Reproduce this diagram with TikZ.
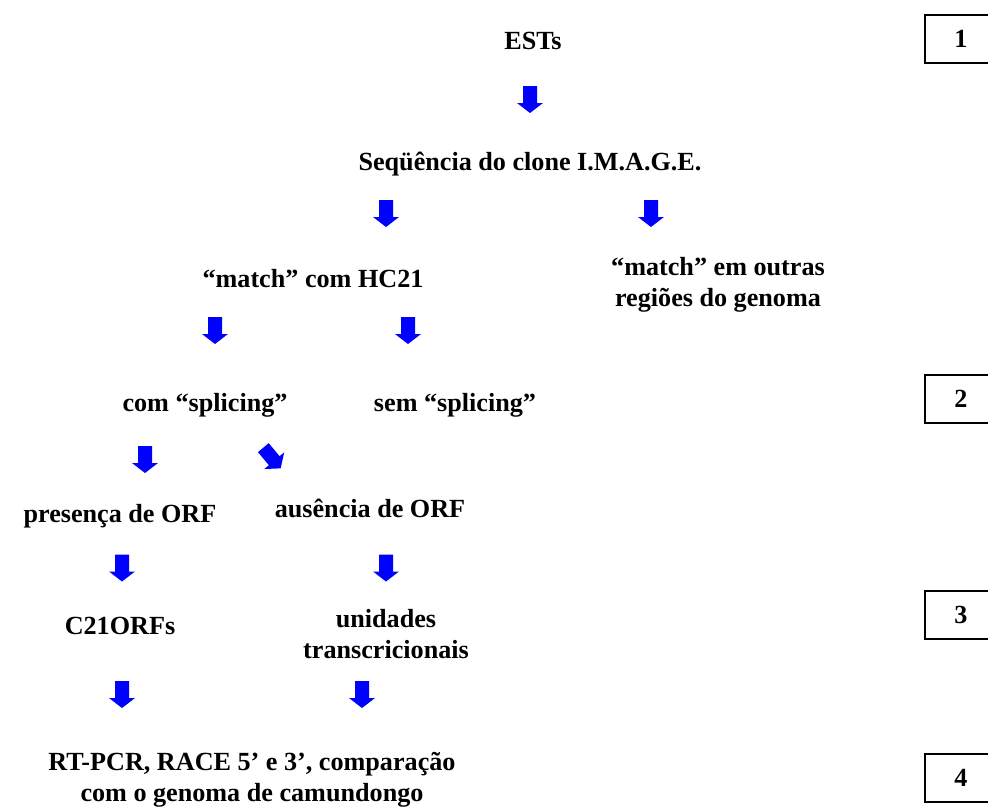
\documentclass[tikz,border=0pt]{standalone}
\usepackage{fontspec}
\setmainfont{Liberation Serif}
\usepackage{tikz}
\usetikzlibrary{positioning}
\definecolor{arrowblue}{RGB}{0,0,255}

\begin{document}
\begin{tikzpicture}[
        x=0.025cm, y=-0.025cm, % one unit = one pixel of the layout
        steptext/.style={align=center, anchor=base, inner sep=0pt, font=\bfseries\fontsize{18.6}{22}\selectfont},
        stagebox/.style={draw, line width=1pt, minimum width=1.8cm, minimum height=1.2cm, inner sep=0pt, font=\bfseries\fontsize{18.6}{22}\selectfont},
        blockarrow/.pic={\fill[arrowblue] (-7,-13.5) -- (7,-13.5) -- (7,3.5) -- (13,3.5) -- (0,13.5) -- (-13,3.5) -- (-7,3.5) -- cycle;}
    ]
    \useasboundingbox (0,0) rectangle (988,809);

    % ==========================================
    % 1. STEPS
    % ==========================================
    \node[steptext] (ests)    at (533, 50)  {ESTs};
    \node[steptext] (image)   at (530, 170) {Seqüência do clone I.M.A.G.E.};
    \node[steptext] (hc21)    at (313, 287) {“match” com HC21};
    \node[steptext] (outras)  at (718, 306) {“match” em outras\\regiões do genoma};
    \node[steptext] (comspl)  at (205, 411) {com “splicing”};
    \node[steptext] (semspl)  at (455, 411) {sem “splicing”};
    \node[steptext] (orfsim)  at (120, 522) {presença de ORF};
    \node[steptext] (orfnao)  at (370, 517) {ausência de ORF};
    \node[steptext] (c21orf)  at (120, 634) {C21ORFs};
    \node[steptext] (unid)    at (386, 658) {unidades\\transcricionais};
    \node[steptext] (rtpcr)   at (252, 801) {RT-PCR, RACE 5’ e 3’, comparação\\com o genoma de camundongo};

    % ==========================================
    % 2. BLOCK ARROWS
    % ==========================================
    \pic at (530, 99.5)  {blockarrow};
    \pic at (386, 213.5) {blockarrow};
    \pic at (651, 213.5) {blockarrow};
    \pic at (215, 330.5) {blockarrow};
    \pic at (408, 330.5) {blockarrow};
    \pic at (145, 459.5) {blockarrow};
    \pic[rotate=40] at (272, 458) {blockarrow};
    \pic at (122, 568)   {blockarrow};
    \pic at (386, 568)   {blockarrow};
    \pic at (122, 694.5) {blockarrow};
    \pic at (362, 694.5) {blockarrow};

    % ==========================================
    % 3. STAGE NUMBERS
    % ==========================================
    \node[stagebox] (stage1) at (961, 39)  {1};
    \node[stagebox] (stage2) at (961, 399) {2};
    \node[stagebox] (stage3) at (961, 615) {3};
    \node[stagebox] (stage4) at (961, 778) {4};

\end{tikzpicture}
\end{document}
